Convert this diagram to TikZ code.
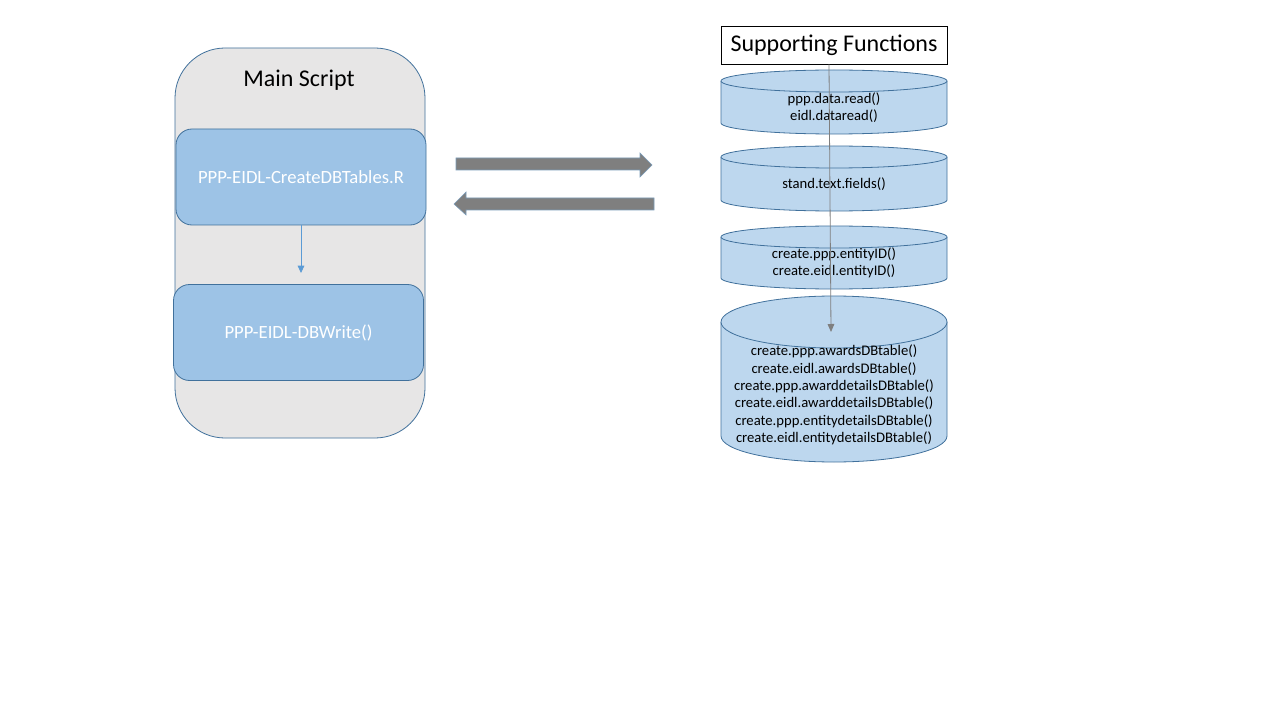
\documentclass[tikz,border=0pt]{standalone}
\usepackage{fontspec}
\setmainfont{Carlito}
\usetikzlibrary{positioning, arrows.meta}
\definecolor{edgeblue}{HTML}{41719C}
\definecolor{boxblue}{HTML}{9DC3E6}
\definecolor{cylblue}{HTML}{BDD7EE}
\definecolor{panelgrey}{HTML}{E7E6E6}
\definecolor{flowblue}{HTML}{5B9BD5}
\definecolor{arrowgrey}{HTML}{7F7F7F}
\newcommand\dbcylinder[6]{% name, centre x, top y, bottom y, cap radius, text
  \def\halfw{113}  % half width of the cylinder
  \filldraw[cyl] (#2-\halfw,#3) -- (#2-\halfw,#4) arc[start angle=180, end angle=360, x radius=\halfw, y radius=#5]
    -- (#2+\halfw,#3) arc[start angle=0, end angle=180, x radius=\halfw, y radius=#5] -- cycle;
  \draw[cyl] (#2-\halfw,#3) arc[start angle=180, end angle=360, x radius=\halfw, y radius=#5];
  \node[cyltext] (#1) at (#2,{(#3+#4-#5)/2-(#5-11)/5}) {#6};
}

\begin{document}
\begin{tikzpicture}[x=0.75pt, y=0.75pt,
    panel/.style={draw=edgeblue, fill=panelgrey, line width=0.6pt},
    script/.style={draw=edgeblue, fill=boxblue, text=white, line width=0.6pt, minimum width=187.5pt,
      minimum height=72pt, rounded corners=12pt, font=\fontsize{14}{17}\selectfont},
    cyl/.style={draw=edgeblue, fill=cylblue, line width=0.6pt},
    cyltext/.style={align=center, font=\fontsize{11}{13}\selectfont},
    blockarrow/.style={fill=arrowgrey, draw=edgeblue!70, line width=0.4pt}]
  \useasboundingbox[fill=white] (0,0) rectangle (1280,-720);
  % main script
  \node[panel, minimum width=187.5pt, minimum height=292.5pt, rounded corners=37.5pt] (main) at (300,-243) {};
  \node[font=\fontsize{18}{22}\selectfont] (mainlabel) at (299,-80) {Main Script};
  \node[script] (create) at (301,-177) {PPP-EIDL-CreateDBTables.R};
  \node[script] (dbwrite) at (298.5,-332.5) {PPP-EIDL-DBWrite()};
  \coordinate (writein) at (301,-273);
  \draw[flowblue, line width=0.6pt, -{Triangle[width=5pt,length=5.5pt]}] (create.south) -- (writein);
  % arrows between the two sides
  \filldraw[blockarrow] (456,-158) -- (640,-158) -- (640,-153) -- (652,-165) -- (640,-177) -- (640,-170) -- (456,-170) -- cycle;
  \filldraw[blockarrow] (654,-198) -- (466,-198) -- (466,-192) -- (454,-204) -- (466,-215) -- (466,-210) -- (654,-210) -- cycle;
  % supporting functions
  \node[draw=black, fill=white, line width=0.6pt, minimum width=169.5pt, minimum height=28.5pt,
    font=\fontsize{18}{22}\selectfont] (support) at (834,-45) {Supporting Functions};
  \dbcylinder{readfns}{834}{-81}{-123}{11}{ppp.data.read()\\eidl.dataread()}
  \dbcylinder{textfns}{834}{-157}{-200}{11}{stand.text.fields()}
  \dbcylinder{idfns}{834}{-237}{-278}{11}{create.ppp.entityID()\\create.eidl.entityID()}
  \dbcylinder{tablefns}{834}{-322}{-436}{26}{create.ppp.awardsDBtable()\\create.eidl.awardsDBtable()\\
    create.ppp.awarddetailsDBtable()\\create.eidl.awarddetailsDBtable()\\
    create.ppp.entitydetailsDBtable()\\create.eidl.entitydetailsDBtable()}
  \coordinate (fnend) at (831,-332);
  \draw[arrowgrey, line width=0.6pt, -{Triangle[width=5pt,length=6pt]}] ([xshift=-3.75pt]support.south) -- (fnend);
\end{tikzpicture}
\end{document}
